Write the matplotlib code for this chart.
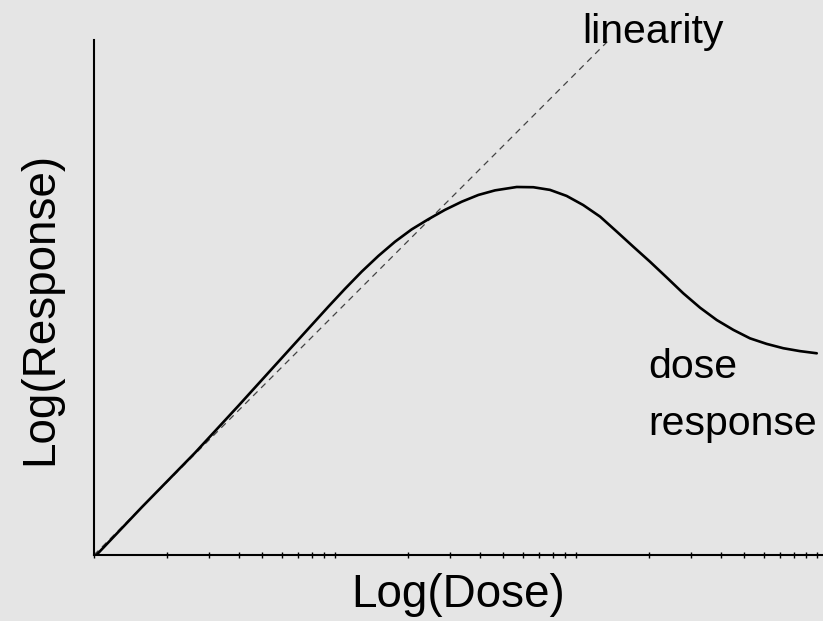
import numpy as np
import matplotlib
matplotlib.use("Agg")
import matplotlib.pyplot as plt
from matplotlib.ticker import LogLocator, NullFormatter, NullLocator

# values, in log10 units (x = log dose, y = log response)
log_dose = [0.01, 0.2, 0.419, 0.6, 0.834, 0.903, 0.972, 1.041, 1.111, 1.180,
            1.249, 1.318, 1.387, 1.456, 1.526, 1.595, 1.664, 1.754, 1.823,
            1.892, 1.961, 2.030, 2.100, 2.169, 2.238, 2.307, 2.376, 2.445,
            2.515, 2.584, 2.653, 2.722, 2.791, 2.860, 2.929, 2.999]
log_resp = [0.0, 0.2, 0.424, 0.62, 0.878, 0.954, 1.030, 1.104, 1.176, 1.241,
            1.300, 1.351, 1.393, 1.432, 1.466, 1.494, 1.513, 1.527, 1.526,
            1.515, 1.490, 1.452, 1.404, 1.342, 1.279, 1.217, 1.152, 1.086,
            1.026, 0.975, 0.934, 0.899, 0.876, 0.858, 0.846, 0.837]
lin_dose = [0.0, 2.13]
lin_resp = [0.0, 2.13]

bg = "#e5e5e5"
plt.rcParams["font.family"] = ["Liberation Sans", "DejaVu Sans"]

fig = plt.figure(figsize=(8.23, 6.21), dpi=100, facecolor=bg)
ax = fig.add_axes([94 / 823, 66 / 621, 729 / 823, 515 / 621])
ax.set_facecolor(bg)

ax.plot(10 ** np.array(lin_dose), 10 ** np.array(lin_resp),
        color="#444444", lw=0.9, ls=(0, (5, 4)))
ax.plot(10 ** np.array(log_dose), 10 ** np.array(log_resp),
        color="black", lw=1.9, solid_capstyle="round", solid_joinstyle="round")

ax.set_xscale("log")
ax.set_yscale("log")
ax.set_xlim(1, 10 ** (729 / 241))
ax.set_ylim(1, 10 ** (515 / 241))

for s in ("top", "right"):
    ax.spines[s].set_visible(False)
for s in ("left", "bottom"):
    ax.spines[s].set_linewidth(1.5)

ax.xaxis.set_major_locator(LogLocator(base=10))
ax.xaxis.set_minor_locator(LogLocator(base=10, subs=np.arange(2, 10)))
ax.xaxis.set_major_formatter(NullFormatter())
ax.xaxis.set_minor_formatter(NullFormatter())
ax.tick_params(axis="x", which="both", direction="inout", length=4, width=1)
ax.yaxis.set_major_locator(NullLocator())
ax.yaxis.set_minor_locator(NullLocator())

fig.text(582 / 823, (621 - 43) / 621, "linearity", fontsize=29.5, va="baseline", ha="left")
fig.text(648 / 823, (621 - 378) / 621, "dose", fontsize=29.5, va="baseline", ha="left")
fig.text(648 / 823, (621 - 435) / 621, "response", fontsize=29.5, va="baseline", ha="left")
fig.text(458 / 823, (621 - 607) / 621, "Log(Dose)", fontsize=33, va="baseline", ha="center")
fig.text(40 / 823, (621 - 308) / 621, "Log(Response)", fontsize=33, rotation=90,
         va="center", ha="center")

fig.savefig("out.png", dpi=100, facecolor=bg)
